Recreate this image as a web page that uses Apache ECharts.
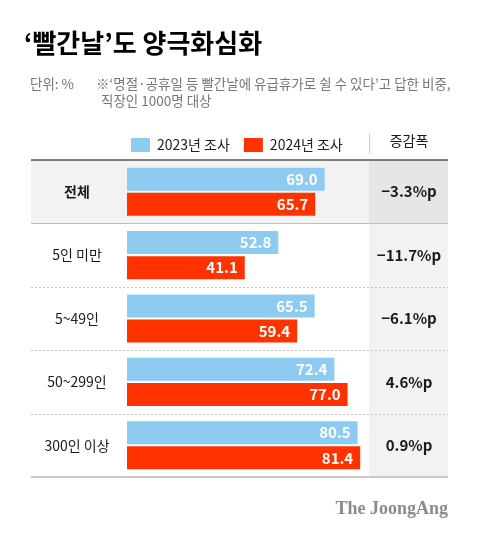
<!DOCTYPE html>
<html><head><meta charset="utf-8">
<script src="https://cdn.jsdelivr.net/npm/echarts@6/dist/echarts.min.js"></script>
<style>html,body{margin:0;padding:0;background:#fff}#c{width:480px;height:538px}</style>
</head><body><div id="c"></div>
<script>
const categories = ['전체', '5인 미만', '5~49인', '50~299인', '300인 이상'];
const values2023 = [69.0, 52.8, 65.5, 72.4, 80.5];
const values2024 = [65.7, 41.1, 59.4, 77.0, 81.4];
const diffs = ['−3.3%p', '−11.7%p', '−6.1%p', '4.6%p', '0.9%p'];
const seriesNames = ['2023년 조사', '2024년 조사'];

(function () {
const FONT = '"Noto Sans CJK KR", "Noto Sans", sans-serif';
const BLUE = '#8ecbf0', RED = '#ff3300';

const chart = echarts.init(document.getElementById('c'), null, {renderer: 'canvas'});
const GRID = {left: 127, top: 160, width: 286.5, height: 317};

chart.setOption({
  backgroundColor: '#fff',
  animation: false,
  textStyle: {fontFamily: FONT},
  legend: {
    left: 126, top: 133, itemWidth: 19, itemHeight: 14, itemGap: 14, icon: 'rect',
    data: seriesNames,
    textStyle: {fontSize: 14, color: '#222', fontFamily: FONT, padding: [0, 0, 0, 2]}
  },
  grid: GRID,
  xAxis: {type: 'value', min: 0, max: 100, show: false},
  yAxis: [{
    type: 'category', data: categories, inverse: true,
    axisLine: {show: false}, axisTick: {show: false}, splitLine: {show: false},
    axisLabel: {
      margin: 50, align: 'center', fontSize: 14, color: '#1a1a1a', fontFamily: FONT,
      formatter: (v, i) => i === 0 ? '{b|' + v + '}' : v,
      rich: {b: {fontSize: 14, fontWeight: 'bold', color: '#1a1a1a', fontFamily: FONT}}
    }
  }, {
    type: 'category', data: diffs, inverse: true, position: 'right', offset: -4.5,
    axisLine: {show: false}, axisTick: {show: false}, splitLine: {show: false},
    axisLabel: {margin: 0, align: 'center', fontSize: 15, fontWeight: 'bold', color: '#1a1a1a', fontFamily: FONT}
  }],
  series: [
    {name: seriesNames[0], type: 'bar', data: values2023, barWidth: 23, barGap: '9%',
     itemStyle: {color: BLUE}, z: 3,
     label: {show: true, position: 'insideRight', distance: 7, color: '#fff', fontSize: 15, fontWeight: 'bold', fontFamily: FONT,
             formatter: p => p.value.toFixed(1)}},
    {name: seriesNames[1], type: 'bar', data: values2024, barWidth: 23,
     itemStyle: {color: RED}, z: 3,
     label: {show: true, position: 'insideRight', distance: 7, color: '#fff', fontSize: 15, fontWeight: 'bold', fontFamily: FONT,
             formatter: p => p.value.toFixed(1)}}
  ]
});

const c0 = chart.convertToPixel({yAxisIndex: 0}, categories[0]);
const c1 = chart.convertToPixel({yAxisIndex: 0}, categories[1]);
const band = c1 - c0;
const tableL = 31, tableR = 448, diffL = 369;
const bounds = categories.map(c => chart.convertToPixel({yAxisIndex: 0}, c) - band / 2);
bounds.push(bounds[bounds.length - 1] + band);
const yTop = bounds[0], yBot = bounds[bounds.length - 1];

const g = [];
g.push({type: 'rect', z: 0, shape: {x: tableL, y: yTop, width: tableR - tableL, height: band}, style: {fill: '#f2f2f2'}, silent: true});
g.push({type: 'rect', z: 0, shape: {x: diffL, y: yTop, width: tableR - diffL, height: yBot - yTop}, style: {fill: '#f2f2f2'}, silent: true});
g.push({type: 'rect', z: 0, shape: {x: diffL, y: yTop, width: tableR - diffL, height: band}, style: {fill: '#e6e6e6'}, silent: true});
for (let i = 1; i < categories.length; i++) {
  const y = Math.round(bounds[i]) + 0.5;
  g.push({type: 'line', z: 1, shape: {x1: tableL, y1: y, x2: tableR, y2: y},
    style: {stroke: i === 1 ? '#bdbdbd' : '#c4c4c4', lineWidth: 1, lineDash: i === 1 ? null : [2, 2]}, silent: true});
}
g.push({type: 'line', z: 1, shape: {x1: tableL, y1: yTop, x2: tableR, y2: yTop}, style: {stroke: '#555', lineWidth: 1.5}, silent: true});
g.push({type: 'line', z: 1, shape: {x1: tableL, y1: yBot, x2: tableR, y2: yBot}, style: {stroke: '#c8c8c8', lineWidth: 2}, silent: true});
g.push({type: 'line', z: 1, shape: {x1: diffL + 0.5, y1: 133, x2: diffL + 0.5, y2: 154}, style: {stroke: '#d0d0d0', lineWidth: 1}, silent: true});
g.push({type: 'text', z: 2, x: 409, y: 141, style: {text: '증감폭', fontSize: 14, fill: '#1a1a1a', fontFamily: FONT, align: 'center', verticalAlign: 'middle'}});
g.push({type: 'text', z: 2, x: 24, y: 43, style: {text: '‘빨간날’도 양극화심화', fontSize: 26, fontWeight: 'bold', fill: '#000', fontFamily: FONT, verticalAlign: 'middle'}});
g.push({type: 'text', z: 2, x: 30, y: 84, style: {text: '단위: %', fontSize: 13.5, fill: '#777', fontFamily: FONT, verticalAlign: 'middle'}});
g.push({type: 'text', z: 2, x: 96, y: 84, style: {text: '※‘명절·공휴일 등 빨간날에 유급휴가로 쉴 수 있다’고 답한 비중,', fontSize: 13.5, fill: '#777', fontFamily: FONT, verticalAlign: 'middle'}});
g.push({type: 'text', z: 2, x: 101, y: 101, style: {text: '직장인 1000명 대상', fontSize: 13.5, fill: '#777', fontFamily: FONT, verticalAlign: 'middle'}});
g.push({type: 'text', z: 2, x: 448, y: 509, style: {text: 'The JoongAng', fontSize: 18, fontWeight: 'bold', fill: '#8a8a8a', fontFamily: '"Liberation Serif", serif', align: 'right', verticalAlign: 'middle'}});

chart.setOption({graphic: g});
})();
</script>
</body></html>
